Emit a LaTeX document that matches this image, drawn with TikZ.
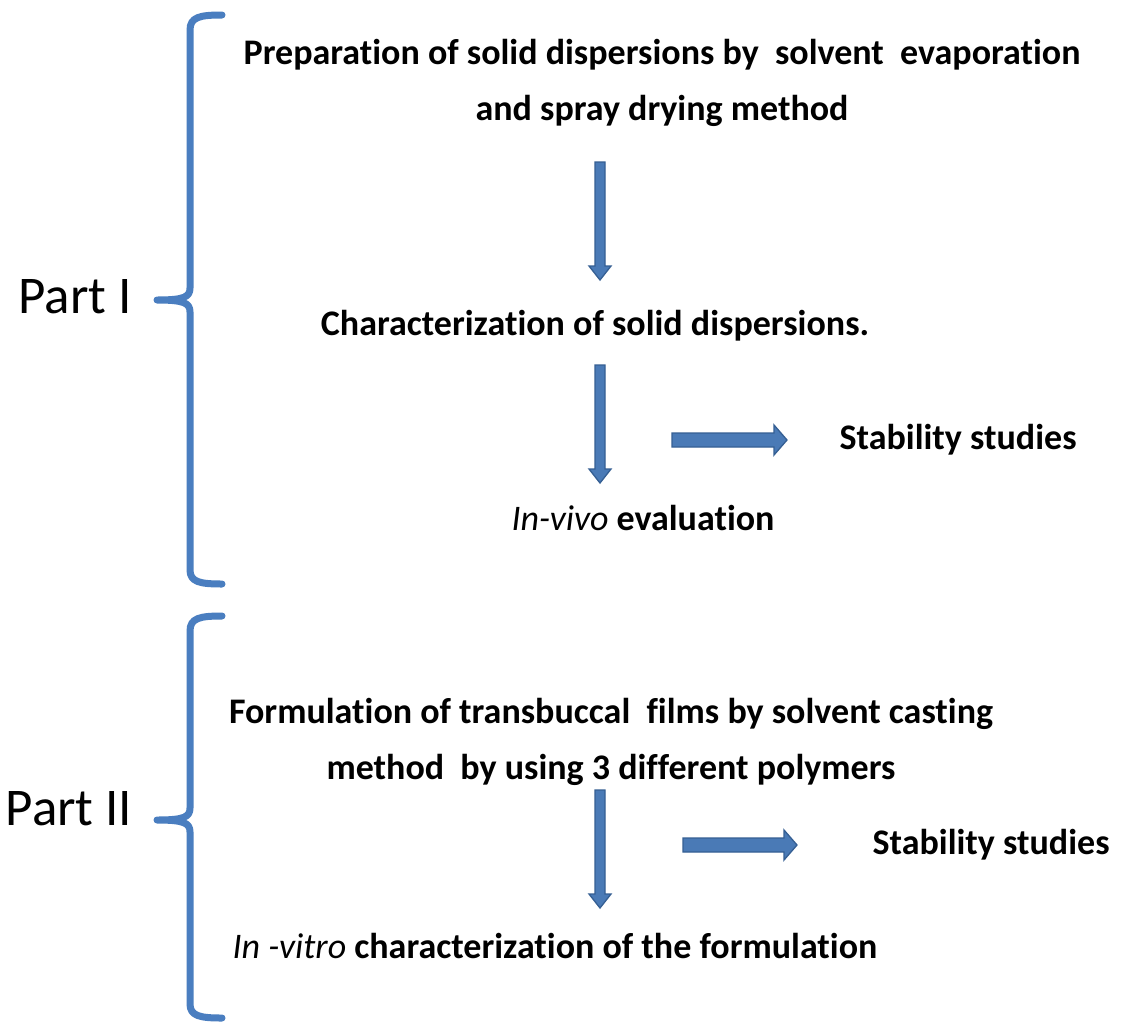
\documentclass[tikz,border=0pt]{standalone}
\usepackage{fontspec}
\setmainfont{Carlito}[Ligatures={NoCommon}]
\definecolor{bracecol}{HTML}{4A7EC0}
\definecolor{arrfill}{HTML}{4A7AB6}
\definecolor{arrdraw}{HTML}{355F93}
\begin{document}
\begin{tikzpicture}[x=1pt,y=-1pt,
  txt/.style={font=\fontsize{36}{56}\selectfont\bfseries, inner sep=0pt, anchor=base},
  mtxt/.style={font=\fontsize{36}{56}\selectfont\bfseries, inner sep=0pt, align=center, anchor=north},
  part/.style={font=\fontsize{53}{60}\selectfont, inner sep=0pt, anchor=base},
  bracesty/.style={draw=bracecol, line width=7pt, line cap=round, line join=round},
  arrowsty/.style={fill=arrfill, draw=arrdraw, line width=1.3pt, line join=miter},
  pics/varrow/.style={code={\filldraw[arrowsty] (-5,0) -- (5,0) -- (5,#1-14) -- (11,#1-14) -- (0,#1) -- (-11,#1-14) -- (-5,#1-14) -- cycle;}},
  pics/harrow/.style={code={\filldraw[arrowsty] (0,-7) -- (#1-13,-7) -- (#1-13,-15) -- (#1,0) -- (#1-13,15) -- (#1-13,7) -- (0,7) -- cycle;}}
]
\useasboundingbox (0,0) rectangle (1126,1026);
\fill[white] (0,0) rectangle (1126,1026);

% Part labels
\node[part] (p1) at (75,313) {Part I};
\node[part] (p2) at (69,825) {Part II};

% Braces
\coordinate (b1t) at (222,15);
\coordinate (b1m) at (157,300);
\coordinate (b1b) at (222,584);
\draw[bracesty] (b1t) .. controls (200,15) and (190,17) .. (190,30) -- (190,288)
  .. controls (190,297) and (184,300) .. (b1m)
  .. controls (184,300) and (190,303) .. (190,312) -- (190,570)
  .. controls (190,582) and (200,584) .. (b1b);
\coordinate (b2t) at (222,616);
\coordinate (b2m) at (157,820);
\coordinate (b2b) at (222,1018);
\draw[bracesty] (b2t) .. controls (200,616) and (190,618) .. (190,631) -- (190,808)
  .. controls (190,817) and (184,820) .. (b2m)
  .. controls (184,820) and (190,823) .. (190,832) -- (190,1004)
  .. controls (190,1016) and (200,1018) .. (b2b);

% Part I texts
\node[mtxt] (prep) at (662,39) {Preparation of solid dispersions by\ \ solvent\ \ evaporation\\and spray drying method};
\node[txt] (char) at (595,335) {Characterization of solid dispersions.};
\node[txt] (vivo) at (643,530) {\mdseries\itshape In-vivo\/\bfseries\upshape{} evaluation};
\node[txt] (stab1) at (958,449) {Stability studies};

% Part II texts
\node[mtxt] (form) at (611,698) {Formulation of transbuccal\ \ films by solvent casting\\method\ \ by using 3 different polymers};
\node[txt] (vitro) at (555,958) {\mdseries\itshape In -vitro\/\bfseries\upshape{} characterization of the formulation};
\node[txt] (stab2) at (991,854) {Stability studies};

% Arrows
\coordinate (a1) at (600,162);
\coordinate (a2) at (600,365);
\coordinate (a3) at (600,790);
\coordinate (r1) at (672,440);
\coordinate (r2) at (683,845);
\pic at (a1) {varrow=118};
\pic at (a2) {varrow=118};
\pic at (a3) {varrow=118};
\pic at (r1) {harrow=115};
\pic at (r2) {harrow=114};
\end{tikzpicture}
\end{document}
